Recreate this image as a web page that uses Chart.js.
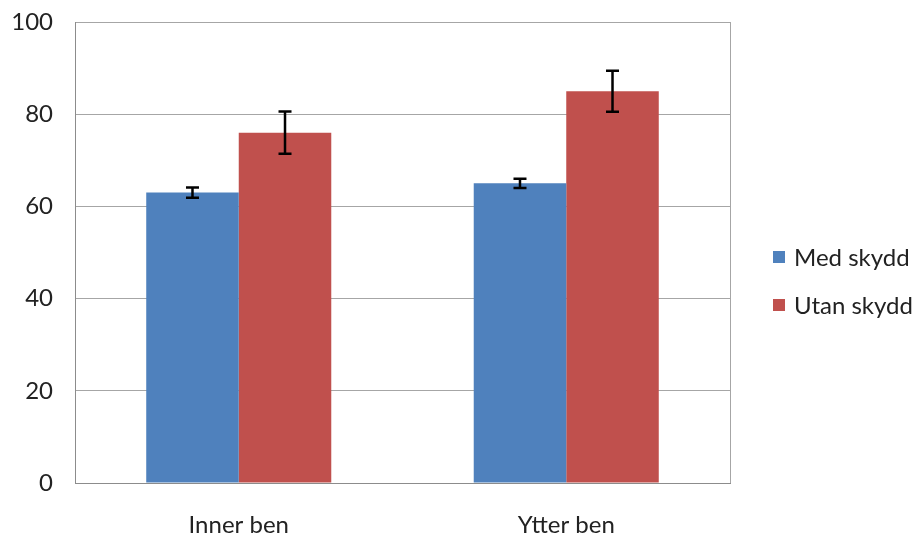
<!DOCTYPE html>
<html lang="sv">
<head>
  <meta charset="UTF-8">
  <title>Med / utan skydd</title>
  <script src="https://cdn.jsdelivr.net/npm/chart.js"></script>
  <style>
    html, body {
      margin: 0;
      padding: 0;
      background: #fff;
    }
    #wrap {
      width: 914px;
      height: 537px;
    }
  </style>
</head>
<body>
  <div id="wrap"><canvas id="chart" width="914" height="537"></canvas></div>

  <script>
    // data
    const categories = ["Inner ben", "Ytter ben"];
    const seriesNames = ["Med skydd", "Utan skydd"];
    const medSkydd = [63, 65];
    const utanSkydd = [76, 85];
    const medSkyddErr = [1.1, 1.0];
    const utanSkyddErr = [4.6, 4.45];
    const yTicks = [0, 20, 40, 60, 80, 100];

    const colors = ["#4f81bd", "#c0504d"];
    const fontFamily = "Lato, 'Open Sans', sans-serif";
    const fontSize = 24;
    const textColor = "#222";

    // error bars, drawn through the y scale
    const errorBars = {
      id: "errorBars",
      afterDatasetsDraw(chart) {
        const ctx = chart.ctx;
        const y = chart.scales.y;
        ctx.save();
        ctx.strokeStyle = "#000";
        ctx.lineWidth = 2.5;
        chart.data.datasets.forEach((ds, i) => {
          const meta = chart.getDatasetMeta(i);
          meta.data.forEach((bar, j) => {
            const v = ds.data[j];
            const e = ds.errors[j];
            const top = y.getPixelForValue(v + e);
            const bot = y.getPixelForValue(v - e);
            const x = bar.x;
            ctx.beginPath();
            ctx.moveTo(x, top); ctx.lineTo(x, bot);
            ctx.moveTo(x - 6.5, top); ctx.lineTo(x + 6.5, top);
            ctx.moveTo(x - 6.5, bot); ctx.lineTo(x + 6.5, bot);
            ctx.stroke();
          });
        });
        ctx.restore();
      }
    };

    // right border of the plot and the legend on the right
    const frameAndLegend = {
      id: "frameAndLegend",
      afterDraw(chart) {
        const ctx = chart.ctx;
        const a = chart.chartArea;
        ctx.save();
        ctx.strokeStyle = "#a6a6a6";
        ctx.lineWidth = 1;
        ctx.beginPath();
        ctx.moveTo(a.right + 0.5, a.top);
        ctx.lineTo(a.right + 0.5, a.bottom);
        ctx.stroke();

        ctx.font = fontSize + "px " + fontFamily;
        ctx.textBaseline = "middle";
        chart.data.datasets.forEach((ds, i) => {
          const cy = 257 + i * 48;
          ctx.fillStyle = ds.backgroundColor;
          ctx.fillRect(773, cy - 6, 12, 12);
          ctx.fillStyle = textColor;
          ctx.fillText(ds.label, 794, cy + 1);
        });
        ctx.restore();
      }
    };

    new Chart(document.getElementById("chart"), {
      type: "bar",
      data: {
        labels: categories,
        datasets: [
          {
            label: seriesNames[0],
            data: medSkydd,
            errors: medSkyddErr,
            backgroundColor: colors[0]
          },
          {
            label: seriesNames[1],
            data: utanSkydd,
            errors: utanSkyddErr,
            backgroundColor: colors[1]
          }
        ]
      },
      options: {
        responsive: false,
        animation: false,
        layout: {
          padding: { top: 22, right: 184, left: 0, bottom: 0 }
        },
        datasets: {
          bar: {
            categoryPercentage: 0.565,
            barPercentage: 1.0
          }
        },
        plugins: {
          legend: { display: false },
          tooltip: { enabled: false }
        },
        scales: {
          x: {
            grid: { display: false, drawTicks: false },
            border: { display: true, color: "#8c8c8c", width: 1 },
            ticks: {
              padding: 28,
              color: textColor,
              font: { family: fontFamily, size: fontSize }
            },
            afterFit(scale) {
              scale.height = 54;
              scale.paddingLeft = 0;
              scale.paddingRight = 0;
            }
          },
          y: {
            min: 0,
            max: 100,
            afterBuildTicks(scale) {
              scale.ticks = yTicks.map(v => ({ value: v }));
            },
            grid: { color: "#a6a6a6", drawTicks: false },
            border: { display: true, color: "#8c8c8c", width: 1 },
            ticks: {
              padding: 22,
              color: textColor,
              font: { family: fontFamily, size: fontSize }
            },
            afterFit(scale) {
              scale.width = 75;
              scale.paddingTop = 0;
              scale.paddingBottom = 0;
            }
          }
        }
      },
      plugins: [errorBars, frameAndLegend]
    });
  </script>
</body>
</html>
